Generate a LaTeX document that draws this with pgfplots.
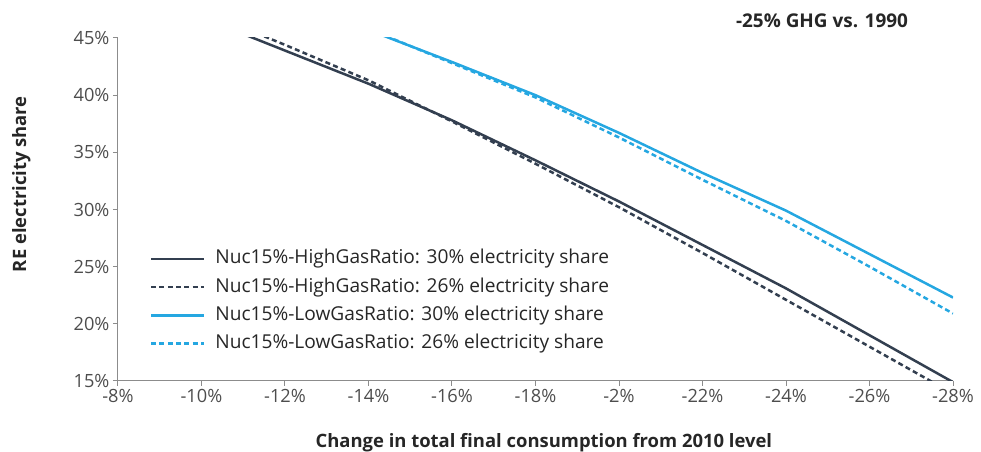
\documentclass[border=0pt]{standalone}
\usepackage{pgfplots}
\pgfplotsset{compat=1.18}
\usepackage{fontspec}
\setmainfont{Open Sans}

\definecolor{navy}{HTML}{333F50}
\definecolor{skyblue}{HTML}{25A7E1}
\definecolor{axisgray}{HTML}{8C8C8C}
\definecolor{labelgray}{HTML}{4D4D4D}
\definecolor{textdark}{HTML}{262626}

\begin{document}
\begin{tikzpicture}[x=1bp,y=1bp]
\path[use as bounding box] (0,0) rectangle (981,452);
\begin{axis}[
  at={(118bp,71bp)}, anchor=south west,
  scale only axis, width=835bp, height=343bp,
  x dir=reverse,
  xmin=-28, xmax=-8, ymin=15, ymax=45,
  xtick={-8,-10,...,-28},
  xticklabels={-8\%,-10\%,-12\%,-14\%,-16\%,-18\%,-2\%,-22\%,-24\%,-26\%,-28\%},
  ytick={15,20,...,45},
  yticklabel={\pgfmathprintnumber{\tick}\%},
  /pgf/number format/assume math mode=true,
  axis x line*=bottom, axis y line*=left,
  axis line style={axisgray, line width=1bp},
  tick style={axisgray, line width=1bp},
  tick align=outside, major tick length=5bp,
  ticklabel style={font=\fontsize{18.3}{20}\selectfont, text=labelgray},
  xlabel={\bfseries Change in total final consumption from 2010 level},
  ylabel={\bfseries RE electricity share},
  label style={font=\fontsize{18.5}{20}\selectfont, text=textdark},
  xlabel style={at={(0.51,-0.195)}, anchor=base},
  ylabel style={at={(-0.110,0.574)}, anchor=base},
  legend cell align=left,
  legend style={draw=none, fill=none, at={(0.038,0.389)}, anchor=north west,
    font=\fontsize{19.2}{20}\selectfont, text=textdark, inner sep=0pt,
    nodes={text height=14bp, text depth=4bp, inner sep=2bp},
    row sep=6.3bp, column sep=8bp},
  legend image code/.code={\draw[#1] (0bp,0bp) -- (53bp,0bp);},
  every axis plot/.append style={line width=2.5bp},
]
\addplot[navy] coordinates {
  (-8,49.6) (-10,46.8) (-12,43.9) (-14,41.0) (-16,37.8) (-18,34.3)
  (-20,30.7) (-22,26.9) (-24,23.1) (-26,19.0) (-28,14.9)};
\addlegendentry{Nuc15\%-HighGasRatio: 30\% electricity share}
\addplot[navy, dash pattern=on 5bp off 3.3bp] coordinates {
  (-8,50.3) (-10,47.4) (-12,44.4) (-14,41.3) (-16,37.7) (-18,34.0)
  (-20,30.2) (-22,26.2) (-24,22.1) (-26,18.0) (-28,13.9)};
\addlegendentry{Nuc15\%-HighGasRatio: 26\% electricity share}
\addplot[skyblue] coordinates {
  (-12,48.3) (-14,45.7) (-16,42.9) (-18,40.0) (-20,36.7)
  (-22,33.2) (-24,29.9) (-26,26.1) (-28,22.3)};
\addlegendentry{Nuc15\%-LowGasRatio: 30\% electricity share}
\addplot[skyblue, dash pattern=on 5bp off 3.3bp] coordinates {
  (-12,48.4) (-14,45.8) (-16,42.8) (-18,39.8) (-20,36.3)
  (-22,32.6) (-24,29.0) (-26,25.0) (-28,20.9)};
\addlegendentry{Nuc15\%-LowGasRatio: 26\% electricity share}
\end{axis}
\node[font=\fontsize{19}{20}\selectfont\bfseries, text=textdark, anchor=base] at (822,424) {-25\% GHG vs. 1990};
\end{tikzpicture}
\end{document}
